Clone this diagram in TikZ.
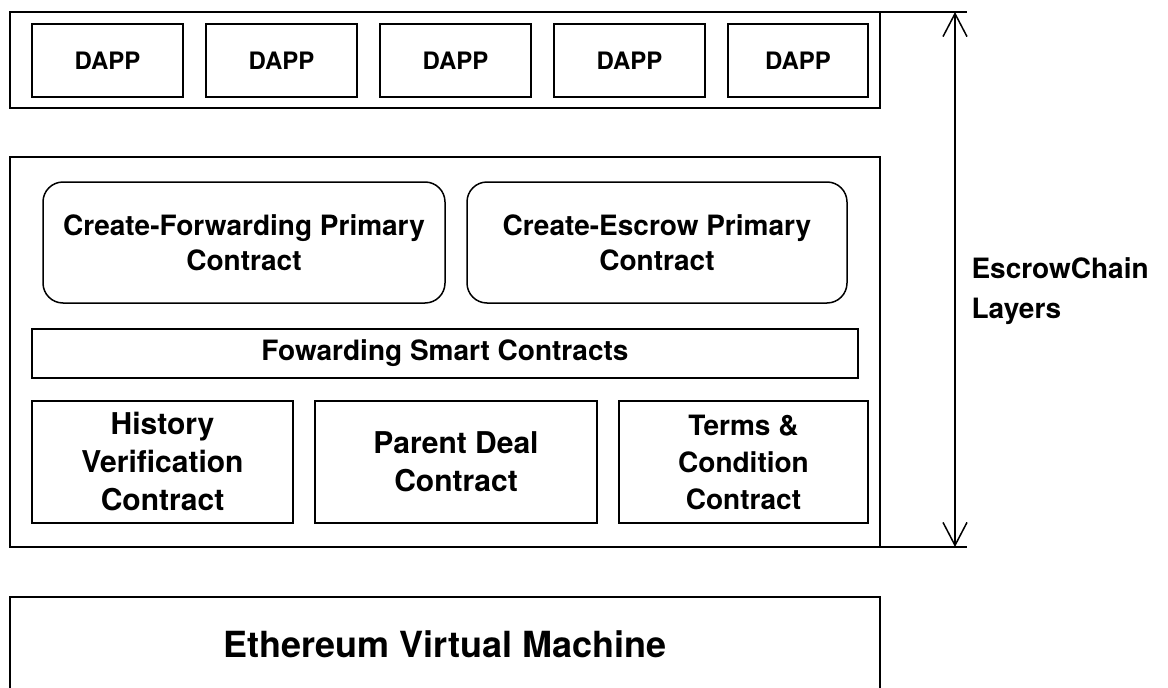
\documentclass[tikz,border=0pt]{standalone}
\usepackage{fontspec}
\setmainfont{TeX Gyre Heros}
\usetikzlibrary{positioning,shapes,arrows.meta}
\tikzstyle{layer} = [rectangle, minimum width=870pt, draw=black, line width=1.5pt, fill=white, outer sep=0pt]
\tikzstyle{dapp} = [rectangle, minimum width=151pt, minimum height=73pt, text centered, draw=black, line width=1.5pt, outer sep=0pt, font=\fontsize{24}{29}\selectfont\bfseries]
\tikzstyle{primary} = [rectangle, rounded corners=20pt, minimum height=121pt, align=center, draw=black, line width=1.5pt, outer sep=0pt, font=\fontsize{28}{35}\selectfont\bfseries]
\tikzstyle{contract} = [rectangle, minimum height=122pt, align=center, draw=black, line width=1.5pt, outer sep=0pt, font=\fontsize{30}{38}\selectfont\bfseries]
\tikzstyle{connect} = [line width=1.5pt, {Straight Barb[length=23pt,width=24pt]}-{Straight Barb[length=23pt,width=24pt]}]
\tikzstyle{bar} = [line width=1.5pt]

\begin{document}
\begin{tikzpicture}[x=1pt, y=-1pt, node distance=23pt]
			\useasboundingbox (0,0) rectangle (1168,688);
			% layers
			\node (apps) [layer, minimum height=96pt] at (445,60) {};
			\node (core) [layer, minimum height=390pt] at (445,352) {};
			\node (evm) [layer, minimum height=94pt, font=\fontsize{36}{43}\selectfont\bfseries] at (445,644) {Ethereum Virtual Machine};

			% dapps
			\node (dapp1) [dapp] at (107.5,60.5) {DAPP};
			\node (dapp2) [dapp, right=of dapp1] {DAPP};
			\node (dapp3) [dapp, right=of dapp2] {DAPP};
			\node (dapp4) [dapp, right=of dapp3] {DAPP};
			\node (dapp5) [dapp, right=of dapp4, minimum width=140pt] {DAPP};

			% contracts
			\node (cfwd) [primary, minimum width=402pt] at (244,242.5) {Create-Forwarding Primary\\Contract};
			\node (cesc) [primary, minimum width=380pt, right=22pt of cfwd] {Create-Escrow Primary\\Contract};
			\node (fwd) [contract, minimum width=826pt, minimum height=49pt, font=\fontsize{28}{35}\selectfont\bfseries] at (445,353.5) {Fowarding Smart Contracts};
			\node (hist) [contract, minimum width=261pt] at (162.5,462) {History\\Verification\\Contract};
			\node (parent) [contract, minimum width=282pt, right=22pt of hist] {Parent Deal\\Contract};
			\node (terms) [contract, minimum width=249pt, right=22pt of parent, font=\fontsize{28}{37}\selectfont\bfseries] {Terms \&\\Condition\\Contract};

			% dimension
			\coordinate (bartop) at (967,12);
			\coordinate (barbot) at (967,547);
			\coordinate (dimtop) at (955,12);
			\coordinate (dimbot) at (955,547);
			\draw [bar] (apps.north east) -- (bartop);
			\draw [bar] (core.south east) -- (barbot);
			\draw [connect] (dimtop) -- (dimbot);
			\node (caption) [anchor=west, align=left, font=\fontsize{28}{40}\selectfont\bfseries] at (968,291) {EscrowChain\\Layers};
			\end{tikzpicture}
\end{document}
